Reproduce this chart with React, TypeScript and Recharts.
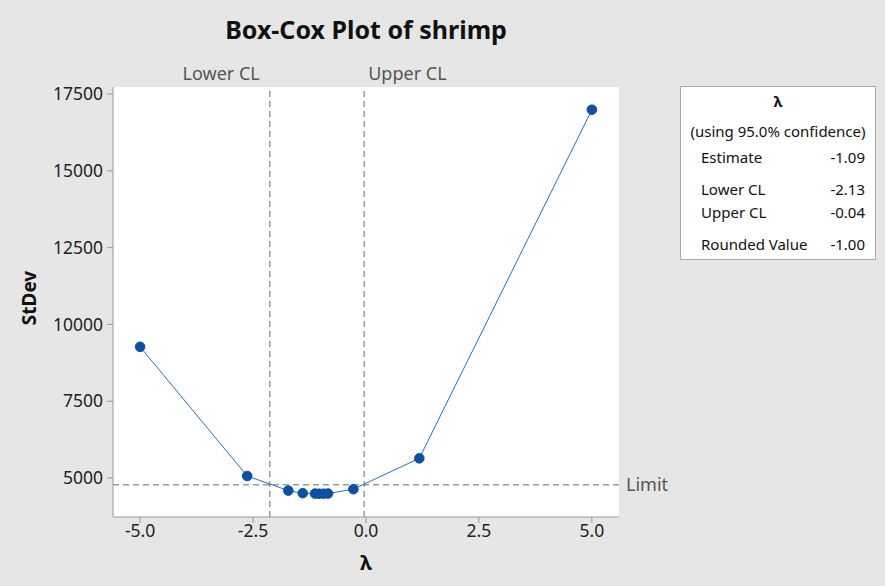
import React from 'react';
import { LineChart, Line, XAxis, YAxis, CartesianGrid, ReferenceLine, Label } from 'recharts';

// Box-Cox curve
const lambdas = [-5, -2.63, -1.72, -1.4, -1.13, -1.04, -0.94, -0.84, -0.28, 1.18, 5];
const stdevs = [9270, 5065, 4590, 4505, 4492, 4488, 4488, 4494, 4635, 5640, 16990];

const xTicks = [-5, -2.5, 0, 2.5, 5];
const yTicks = [5000, 7500, 10000, 12500, 15000, 17500];

const clLabels = ['Lower CL', 'Upper CL'];
const clValues = [-2.13, -0.04];
const limitValue = 4780;

const tableLabels = ['Estimate', 'Lower CL', 'Upper CL', 'Rounded Value'];
const tableValues = ['-1.09', '-2.13', '-0.04', '-1.00'];
const tableGaps = [6, 12, 3, 12];

const FONT = '"Noto Sans", "Open Sans", sans-serif';
const GREY = '#9a9a9a';

const data = lambdas.map((l, i) => ({ lambda: l, stdev: stdevs[i] }));

const CLLabel = (props: any) => {
  const { viewBox, text, side } = props;
  const x = side === 'left' ? viewBox.x - 10 : viewBox.x + 4;
  return (
    <text x={x} y={viewBox.y - 7} textAnchor={side === 'left' ? 'end' : 'start'} fill="#555" fontSize={18}>
      {text}
    </text>
  );
};

const LimitLabel = (props: any) => {
  const { viewBox } = props;
  return (
    <text x={viewBox.x + viewBox.width + 7} y={viewBox.y + 6} fill="#555" fontSize={18}>
      Limit
    </text>
  );
};

const App = () => {
  return (
    <div style={{ position: 'absolute', left: 0, top: 0, width: 885, height: 586, background: '#e6e6e6', fontFamily: FONT }}>
      <div style={{ position: 'absolute', left: 0, width: 732, top: 12, textAlign: 'center', fontSize: 25, fontWeight: 700, color: '#111' }}>
        Box-Cox Plot of shrimp
      </div>
      <LineChart width={885} height={586} data={data} margin={{ top: 87, right: 266, bottom: 39, left: 33 }}>
        <CartesianGrid fill="#ffffff" horizontal={false} vertical={false} />
        <XAxis
          dataKey="lambda"
          type="number"
          domain={[-5.6, 5.6]}
          ticks={xTicks}
          tickFormatter={(v: number) => v.toFixed(1)}
          height={30}
          tickSize={6}
          stroke={GREY}
          tick={{ fill: '#222', fontSize: 17.5 }}
          allowDataOverflow
        >
          <Label
            content={(p: any) => (
              <text x={p.viewBox.x + p.viewBox.width / 2} y={p.viewBox.y + 53} textAnchor="middle" fontSize={20} fontWeight={700} fill="#111">
                λ
              </text>
            )}
          />
        </XAxis>
        <XAxis xAxisId="top" orientation="top" height={0} tick={false} tickLine={false} stroke={GREY} />
        <YAxis
          type="number"
          domain={[3730, 17730]}
          ticks={yTicks}
          width={80}
          tickSize={6}
          tickMargin={4}
          stroke={GREY}
          tick={{ fill: '#222', fontSize: 17.5 }}
          allowDataOverflow
        >
          <Label
            content={(p: any) => {
              const cy = p.viewBox.y + p.viewBox.height / 2 - 4;
              return (
                <text x={36} y={cy} transform={`rotate(-90, 36, ${cy})`} textAnchor="middle" fontSize={19} fontWeight={700} fill="#111">
                  StDev
                </text>
              );
            }}
          />
        </YAxis>
        <YAxis yAxisId="right" orientation="right" width={0} tick={false} tickLine={false} stroke={GREY} />
        <ReferenceLine x={clValues[0]} stroke={GREY} strokeWidth={1.5} strokeDasharray="6 4" label={<CLLabel text={clLabels[0]} side="left" />} />
        <ReferenceLine x={clValues[1]} stroke={GREY} strokeWidth={1.5} strokeDasharray="6 4" label={<CLLabel text={clLabels[1]} side="right" />} />
        <ReferenceLine y={limitValue} stroke={GREY} strokeWidth={1.5} strokeDasharray="6 4" label={<LimitLabel />} />
        <Line
          dataKey="stdev"
          stroke="#2e6fc0"
          strokeWidth={1}
          dot={{ r: 4.8, fill: '#0d4fa3', stroke: '#0d4fa3', strokeWidth: 1 }}
          isAnimationActive={false}
        />
      </LineChart>
      <div
        style={{
          position: 'absolute',
          left: 680,
          top: 86,
          width: 194,
          height: 172,
          background: '#fff',
          border: '1px solid #aaa',
          fontSize: 15,
          lineHeight: '20px',
          color: '#111',
        }}
      >
        <div style={{ textAlign: 'center', fontWeight: 700, marginTop: 4 }}>λ</div>
        <div style={{ textAlign: 'center', marginTop: 10, whiteSpace: 'nowrap' }}>(using 95.0% confidence)</div>
        {tableLabels.map((t, i) => (
          <div key={t} style={{ display: 'flex', justifyContent: 'space-between', padding: '0 10px 0 20px', marginTop: tableGaps[i] }}>
            <span>{t}</span>
            <span>{tableValues[i]}</span>
          </div>
        ))}
      </div>
    </div>
  );
};

export default App;
